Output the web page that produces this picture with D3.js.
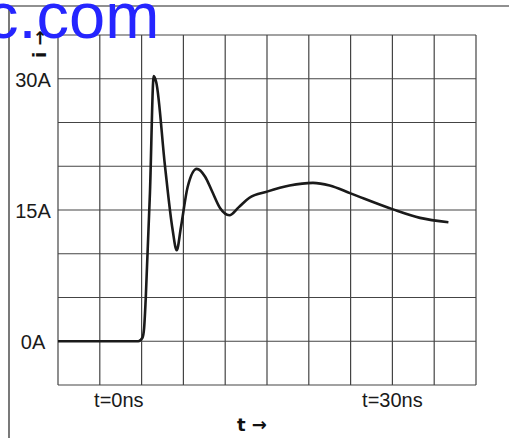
<!DOCTYPE html>
<html>
<head>
<meta charset="utf-8">
<script src="https://cdn.jsdelivr.net/npm/d3@7"></script>
<style>
  html, body { margin: 0; padding: 0; background: #fff; }
  svg { display: block; }
</style>
</head>
<body>
<svg id="chart" width="509" height="438"></svg>
<script>
'use strict';

// current pulse
const timeNs = [-10, -0.4, 0.1, 0.3, 0.5, 1.0, 1.45, 1.75, 2.8, 3.7, 4.2, 4.7, 5.5, 6.6, 7.6, 8.4,
  9.4, 10.5, 11.6, 12.9, 15.0, 17.7, 20.5, 22.5, 25.0, 30.0, 33.3, 36.7];
const currentA = [0, 0, 0.4, 1.5, 5, 17, 30.3, 29.6, 20, 12.8, 10.4, 13, 17.6, 19.7, 18.8, 17.2,
  15.2, 14.4, 15.3, 16.4, 17.1, 17.8, 18.1, 17.8, 16.9, 15.1, 14.1, 13.6];

const yTickValues = [0, 15, 30];
const yTickLabels = ['0A', '15A', '30A'];
const xTickValues = [0, 30];
const xTickLabels = ['t=0ns', 't=30ns'];

const xDomain = [-10, 40];
const yDomain = [-5, 35];
const gridStep = 5;

const svg = d3.select('#chart');

const x = d3.scaleLinear().domain(xDomain).range([58, 476]);
const y = d3.scaleLinear().domain(yDomain).range([385, 35]);

// outer frame (left + top edge)
svg.append('path')
  .attr('d', 'M9,438V6H509')
  .attr('fill', 'none')
  .attr('stroke', '#222')
  .attr('stroke-width', 1.2);

// grid
const grid = svg.append('g').attr('class', 'grid');
const gx = d3.range(xDomain[0], xDomain[1] + 0.01, gridStep);
const gy = d3.range(yDomain[0], yDomain[1] + 0.01, gridStep);

grid.selectAll('line.v').data(gx).join('line')
  .attr('class', 'v')
  .attr('x1', d => x(d)).attr('x2', d => x(d))
  .attr('y1', y(yDomain[1])).attr('y2', y(yDomain[0]))
  .attr('stroke', '#444').attr('stroke-width', 1.2);

grid.selectAll('line.h').data(gy).join('line')
  .attr('class', 'h')
  .attr('x1', x(xDomain[0])).attr('x2', x(xDomain[1]))
  .attr('y1', d => y(d)).attr('y2', d => y(d))
  .attr('stroke', '#444').attr('stroke-width', 1.2);

// y labels
svg.append('g').selectAll('text').data(yTickValues).join('text')
  .attr('x', 33)
  .attr('y', d => y(d) + 1)
  .attr('text-anchor', 'middle')
  .attr('dominant-baseline', 'central')
  .attr('font-family', 'Liberation Sans, Arial, sans-serif')
  .attr('font-size', 20)
  .attr('fill', '#1a1a1a')
  .text((d, i) => yTickLabels[i]);

// x labels (t=0 sits left of its grid line, t=30 centred)
svg.append('g').selectAll('text').data(xTickValues).join('text')
  .attr('x', (d, i) => i === 0 ? x(d) + 2 : x(d))
  .attr('y', 407)
  .attr('text-anchor', (d, i) => i === 0 ? 'end' : 'middle')
  .attr('font-family', 'Liberation Sans, Arial, sans-serif')
  .attr('font-size', 20)
  .attr('fill', '#1a1a1a')
  .text((d, i) => xTickLabels[i]);

// axis names
svg.append('text')
  .attr('x', 237).attr('y', 431)
  .attr('font-family', 'DejaVu Sans, sans-serif')
  .attr('font-weight', 'bold')
  .attr('font-size', 18)
  .attr('fill', '#111')
  .text('t →');

svg.append('text')
  .attr('transform', 'translate(46,58) rotate(-90)')
  .attr('font-family', 'DejaVu Sans, sans-serif')
  .attr('font-weight', 'bold')
  .attr('font-size', 18)
  .attr('fill', '#111')
  .text('i →');

// trace
const line = d3.line()
  .x(d => x(d[0]))
  .y(d => y(d[1]))
  .curve(d3.curveMonotoneX);

svg.append('path')
  .datum(d3.zip(timeNs, currentA))
  .attr('d', line)
  .attr('fill', 'none')
  .attr('stroke', '#1a1a1a')
  .attr('stroke-width', 2.6)
  .attr('stroke-linejoin', 'round');

// watermark fragment
svg.append('text')
  .attr('x', -14).attr('y', 38)
  .attr('font-family', 'Liberation Sans, Arial, sans-serif')
  .attr('font-size', 65)
  .attr('fill', '#2525ff')
  .text('c.com');
</script>
</body>
</html>
